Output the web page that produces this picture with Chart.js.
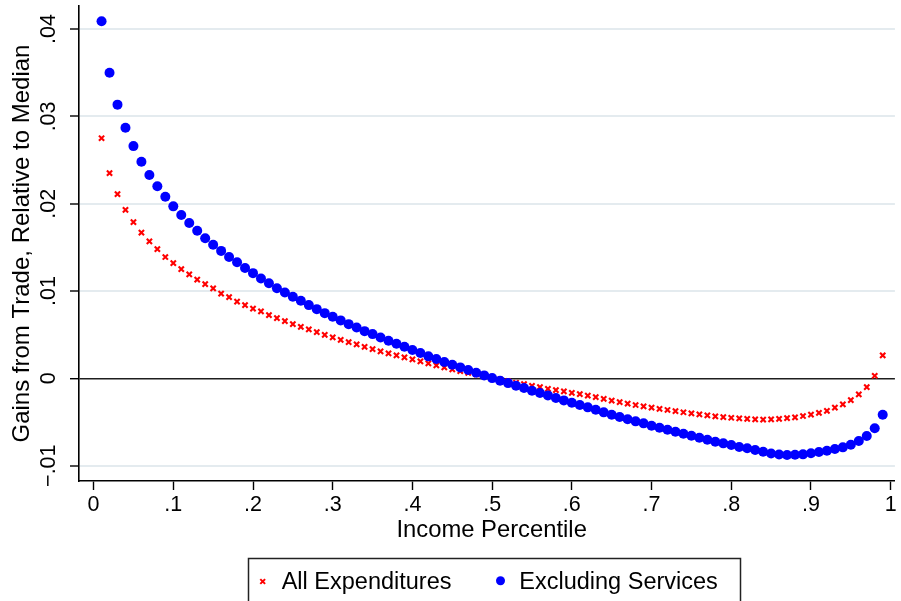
<!DOCTYPE html>
<html>
<head>
<meta charset="utf-8">
<script src="https://cdn.jsdelivr.net/npm/chart.js@4/dist/chart.umd.min.js"></script>
<style>
  html, body { margin: 0; padding: 0; background: #fff; }
  #wrap { width: 901px; height: 601px; }
</style>
</head>
<body>
<div id="wrap"><canvas id="gains" width="901" height="601"></canvas></div>
<script>
// income percentiles (x) and the two gains series
const percentiles = [
  0.01, 0.02, 0.03, 0.04, 0.05, 0.06, 0.07, 0.08, 0.09, 0.10,
  0.11, 0.12, 0.13, 0.14, 0.15, 0.16, 0.17, 0.18, 0.19, 0.20,
  0.21, 0.22, 0.23, 0.24, 0.25, 0.26, 0.27, 0.28, 0.29, 0.30,
  0.31, 0.32, 0.33, 0.34, 0.35, 0.36, 0.37, 0.38, 0.39, 0.40,
  0.41, 0.42, 0.43, 0.44, 0.45, 0.46, 0.47, 0.48, 0.49, 0.50,
  0.51, 0.52, 0.53, 0.54, 0.55, 0.56, 0.57, 0.58, 0.59, 0.60,
  0.61, 0.62, 0.63, 0.64, 0.65, 0.66, 0.67, 0.68, 0.69, 0.70,
  0.71, 0.72, 0.73, 0.74, 0.75, 0.76, 0.77, 0.78, 0.79, 0.80,
  0.81, 0.82, 0.83, 0.84, 0.85, 0.86, 0.87, 0.88, 0.89, 0.90,
  0.91, 0.92, 0.93, 0.94, 0.95, 0.96, 0.97, 0.98, 0.99
];

const allExpenditures = [
  0.0275, 0.0235, 0.0211, 0.0193, 0.0179, 0.0167, 0.0157, 0.0148, 0.0139, 0.0132,
  0.0125, 0.0119, 0.0113, 0.0108, 0.0103, 0.0097, 0.0093, 0.0088, 0.0084, 0.0080,
  0.00767, 0.00724, 0.0069, 0.00656, 0.00621, 0.0059, 0.00561, 0.0053, 0.00499, 0.00469,
  0.00442, 0.00415, 0.00389, 0.00362, 0.00335, 0.00309, 0.00286, 0.00263, 0.0024, 0.00217,
  0.00195, 0.00172, 0.00149, 0.00126, 0.00103, 0.00084, 0.00064, 0.00046, 0.00026, 0.00007,
  -0.00011, -0.00031, -0.0005, -0.00065, -0.00085, -0.001, -0.00119, -0.00134, -0.00149, -0.00165,
  -0.0018, -0.00197, -0.00215, -0.00235, -0.00255, -0.00272, -0.0029, -0.00305, -0.0032, -0.00336,
  -0.0035, -0.00362, -0.00374, -0.00388, -0.004, -0.00412, -0.00423, -0.00434, -0.00443, -0.00451,
  -0.00458, -0.00464, -0.00469, -0.00472, -0.0047, -0.00464, -0.00455, -0.00446, -0.00431, -0.00416,
  -0.00394, -0.00371, -0.00336, -0.00297, -0.00248, -0.00183, -0.001, 0.0003, 0.00263
];

const excludingServices = [
  0.0409, 0.0350, 0.03135, 0.0287, 0.0266, 0.0248, 0.0233, 0.0220, 0.0208, 0.0197,
  0.0187, 0.0178, 0.0169, 0.01605, 0.0153, 0.0146, 0.0139, 0.0133, 0.01265, 0.01205,
  0.01144, 0.0109, 0.01033, 0.00984, 0.00934, 0.00888, 0.00839, 0.00793, 0.00747, 0.00705,
  0.00664, 0.00621, 0.00583, 0.00541, 0.00507, 0.00469, 0.0043, 0.00396, 0.00362, 0.00326,
  0.0029, 0.00252, 0.00221, 0.00187, 0.00156, 0.00126, 0.00095, 0.00064, 0.00034, 0.00003,
  -0.00027, -0.00054, -0.00085, -0.00111, -0.00142, -0.00168, -0.00195, -0.00225, -0.00252, -0.00279,
  -0.00305, -0.00332, -0.00359, -0.00389, -0.00416, -0.00443, -0.00469, -0.00492, -0.00515, -0.00542,
  -0.00565, -0.00588, -0.00611, -0.00634, -0.00657, -0.0068, -0.00703, -0.00725, -0.00744, -0.00763,
  -0.00786, -0.00801, -0.0082, -0.0084, -0.0086, -0.00872, -0.00878, -0.00874, -0.0087, -0.00858,
  -0.00843, -0.00828, -0.00809, -0.0079, -0.0076, -0.00717, -0.0066, -0.00572, -0.00416
];

const xTicks = [0, 0.1, 0.2, 0.3, 0.4, 0.5, 0.6, 0.7, 0.8, 0.9, 1];
const xTickLabels = ['0', '.1', '.2', '.3', '.4', '.5', '.6', '.7', '.8', '.9', '1'];
const yTicks = [-0.01, 0, 0.01, 0.02, 0.03, 0.04];
const yTickLabels = ['\u2212.01', '0', '.01', '.02', '.03', '.04'];
const seriesNames = ['All Expenditures', 'Excluding Services'];

const FONT = '"Liberation Sans", Arial, Helvetica, sans-serif';

// rotated y tick labels, x title and the boxed legend under the plot
const extras = {
    id: 'extras',
    afterDraw(chart) {
        const ctx = chart.ctx;
        const ys = chart.scales.y;
        const area = chart.chartArea;
        ctx.save();
        ctx.fillStyle = '#000';
        ctx.font = '21.5px ' + FONT;
        ctx.textAlign = 'center';
        ctx.textBaseline = 'middle';
        yTicks.forEach((v, i) => {
            ctx.save();
            ctx.translate(ys.right - 30, ys.getPixelForValue(v));
            ctx.rotate(-Math.PI / 2);
            ctx.fillText(yTickLabels[i], 0, 0);
            ctx.restore();
        });

        // x axis title, centred a little right of the plot middle
        ctx.font = '23.8px ' + FONT;
        ctx.textBaseline = 'alphabetic';
        ctx.fillText('Income Percentile', (area.left + area.right) / 2 + 4.7, 536.7);

        // legend
        ctx.strokeStyle = '#222';
        ctx.lineWidth = 1.5;
        ctx.strokeRect(248.5, 558.5, 492, 60);

        ctx.strokeStyle = '#ff0000';
        ctx.lineWidth = 2;
        ctx.beginPath();
        ctx.moveTo(260.3, 579.1); ctx.lineTo(265.1, 583.9);
        ctx.moveTo(265.1, 579.1); ctx.lineTo(260.3, 583.9);
        ctx.stroke();

        ctx.fillStyle = '#0000ff';
        ctx.beginPath();
        ctx.arc(500.5, 580.8, 4.5, 0, Math.PI * 2);
        ctx.fill();

        ctx.fillStyle = '#000';
        ctx.font = '23.5px ' + FONT;
        ctx.textAlign = 'left';
        ctx.fillText(seriesNames[0], 281.7, 589.3);
        ctx.fillText(seriesNames[1], 519.3, 589.3);
        ctx.restore();
    }
};

const toPoints = ys => percentiles.map((p, i) => ({ x: p, y: ys[i] }));

new Chart(document.getElementById('gains'), {
    type: 'scatter',
    data: {
        datasets: [{
            label: seriesNames[0],
            data: toPoints(allExpenditures),
            pointStyle: 'crossRot',
            radius: 3.7,
            borderWidth: 2.1,
            borderColor: '#ff0000',
            backgroundColor: '#ff0000',
            order: 2
        }, {
            label: seriesNames[1],
            data: toPoints(excludingServices),
            pointStyle: 'circle',
            radius: 5,
            borderWidth: 0,
            backgroundColor: '#0000ff',
            borderColor: '#0000ff',
            order: 1
        }]
    },
    options: {
        responsive: false,
        animation: false,
        layout: { padding: { top: 6, right: 0, bottom: 0, left: 0 } },
        plugins: {
            legend: { display: false },
            tooltip: { enabled: false }
        },
        scales: {
            x: {
                type: 'linear',
                min: -0.0183,
                max: 1.0053,
                afterBuildTicks: s => { s.ticks = xTicks.map(v => ({ value: v })); },
                afterFit: s => { s.height = 120; },
                ticks: {
                    autoSkip: false,
                    maxRotation: 0,
                    padding: 2,
                    color: '#000',
                    font: { family: FONT, size: 21.5 },
                    callback: v => xTickLabels[xTicks.indexOf(v)]
                },
                grid: {
                    drawOnChartArea: false,
                    drawTicks: true,
                    tickLength: 9,
                    tickColor: '#000',
                    tickWidth: 1.4
                },
                border: { display: true, color: '#000', width: 1.6 }
            },
            y: {
                min: -0.011752,
                max: 0.042633,
                afterBuildTicks: s => { s.ticks = yTicks.map(v => ({ value: v })); },
                afterFit: s => { s.width = 79; },
                ticks: { display: false },
                grid: {
                    color: c => (c.tick && c.tick.value === 0) ? '#1e1e1e' : '#e4ebef',
                    lineWidth: c => (c.tick && c.tick.value === 0) ? 1.4 : 2,
                    drawTicks: true,
                    tickLength: 9,
                    tickColor: '#000',
                    tickWidth: 1.4
                },
                border: { display: true, color: '#000', width: 1.6 },
                title: {
                    display: true,
                    text: 'Gains from Trade, Relative to Median',
                    color: '#000',
                    font: { family: FONT, size: 24 },
                    padding: { top: 8, bottom: 0 }
                }
            }
        }
    },
    plugins: [extras]
});
</script>
</body>
</html>
